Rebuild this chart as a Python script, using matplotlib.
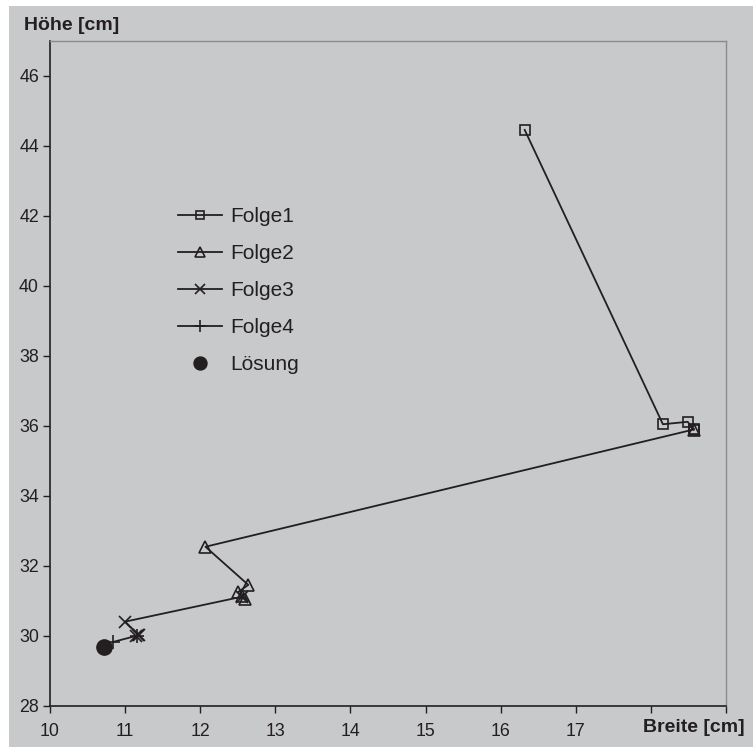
import matplotlib.pyplot as plt
from matplotlib.patches import Rectangle

plt.rcParams['font.family'] = ['Liberation Sans', 'DejaVu Sans']

# Folge1 .. Folge4 und Lösung (Breite, Höhe in cm)
f1_x = [16.32, 18.16, 18.49, 18.57, 18.57]
f1_y = [44.46, 36.05, 36.12, 35.89, 35.92]
f2_x = [18.57, 12.07, 12.64, 12.50, 12.60, 12.55]
f2_y = [35.90, 32.55, 31.46, 31.25, 31.05, 31.15]
f3_x = [12.55, 11.00, 11.18, 11.15, 11.17]
f3_y = [31.12, 30.41, 30.03, 30.00, 30.02]
f4_x = [11.16, 10.84]
f4_y = [30.01, 29.83]
loes_x = [10.72]
loes_y = [29.68]

xticks = list(range(10, 20))
xlabels = [str(t) for t in range(10, 18)] + ['', '']
yticks = list(range(28, 47, 2))

bg = '#c8c9cb'
ink = '#231f20'

fig = plt.figure(figsize=(7.53, 7.47), dpi=100, facecolor='white')
fig.add_artist(Rectangle((9 / 753, 0), 1, 741 / 747, transform=fig.transFigure,
                         facecolor=bg, edgecolor='none', zorder=-10))
ax = fig.add_axes([50 / 753, 1 - 706 / 747, 676 / 753, 665 / 747])
ax.set_facecolor(bg)

kw = dict(color=ink, lw=1.3, markerfacecolor='none', markeredgecolor=ink, markeredgewidth=1.2)
ax.plot(f1_x, f1_y, marker='s', ms=7.5, label='Folge1', **kw)
ax.plot(f2_x, f2_y, marker='^', ms=8, label='Folge2', **kw)
ax.plot(f3_x, f3_y, marker='x', ms=8, label='Folge3', **kw)
ax.plot(f4_x, f4_y, marker='+', ms=10, label='Folge4', **kw)
ax.plot(loes_x, loes_y, 'o', ms=11, color=ink, label='Lösung')

ax.set_xlim(10, 19)
ax.set_ylim(28, 47)
ax.set_xticks(xticks)
ax.set_xticklabels(xlabels)
ax.set_yticks(yticks)
ax.tick_params(direction='out', length=5, width=1, color=ink, labelsize=12.8,
               labelcolor=ink)
ax.tick_params(axis='x', pad=7)
ax.tick_params(axis='y', pad=3)
for s in ['left', 'bottom']:
    ax.spines[s].set_color(ink)
    ax.spines[s].set_linewidth(1.2)
for s in ['top', 'right']:
    ax.spines[s].set_color('#8a8a8a')
    ax.spines[s].set_linewidth(1)

leg = ax.legend(loc='upper left', bbox_to_anchor=(128 / 676, 1 - 166 / 665),
                frameon=False, fontsize=15, handlelength=2.1, handletextpad=0.4,
                labelspacing=0.87, borderpad=0, borderaxespad=0, markerscale=0.85)
for t in leg.get_texts():
    t.set_color(ink)

fig.text(24 / 753, 1 - 25 / 747, 'Höhe [cm]', fontsize=14, fontweight='bold',
         color=ink, ha='left', va='center')
fig.text(745 / 753, 1 - 728 / 747, 'Breite [cm]', fontsize=14, fontweight='bold',
         color=ink, ha='right', va='center')

fig.savefig('out.png', dpi=100, facecolor=fig.get_facecolor())
